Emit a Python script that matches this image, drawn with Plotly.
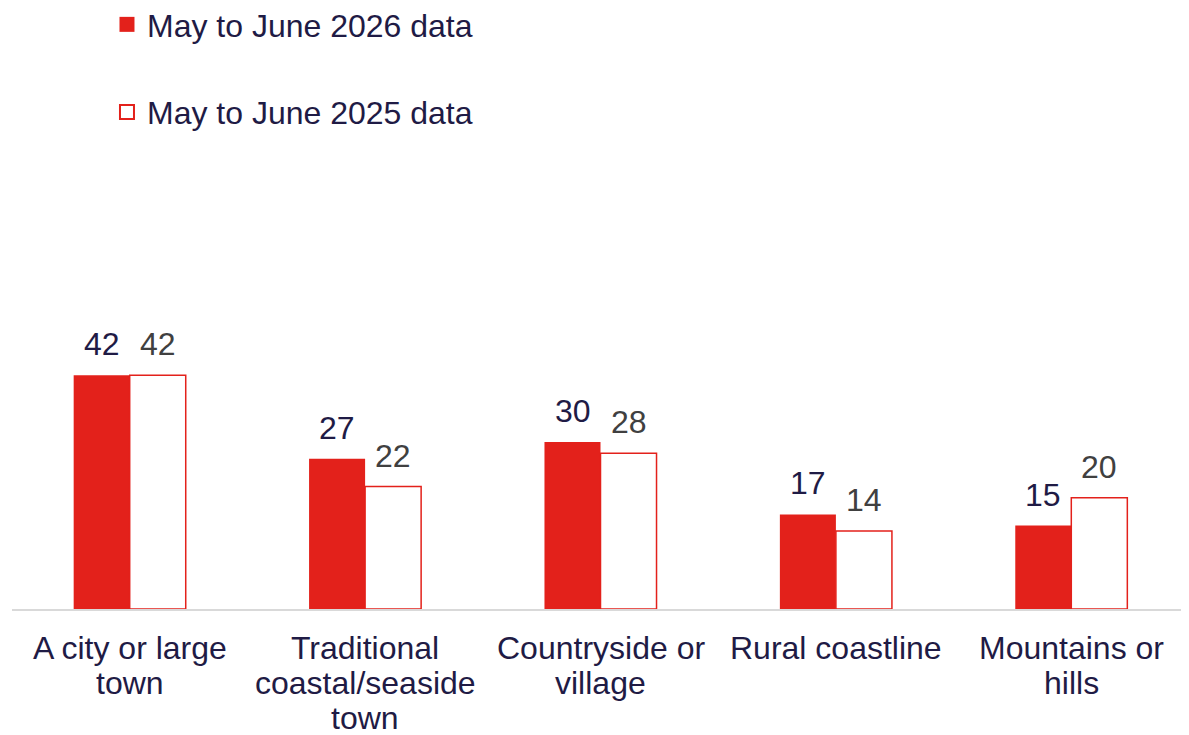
import plotly.graph_objects as go

categories = ["A city or large<br>town", "Traditional<br>coastal/seaside<br>town",
              "Countryside or<br>village", "Rural coastline", "Mountains or<br>hills"]
series_2026 = [42, 27, 30, 17, 15]
series_2025 = [42, 22, 28, 14, 20]
name_2026 = "May to June 2026 data"
name_2025 = "May to June 2025 data"

RED = "#E3211B"
NAVY = "#1F1B45"
GREY = "#404040"
FONT = "Arial, Liberation Sans, sans-serif"
FS = 32

fig = go.Figure()
fig.add_trace(go.Bar(x=categories, y=series_2026, name=name_2026, showlegend=False,
                     marker=dict(color=RED, line=dict(width=0))))
fig.add_trace(go.Bar(x=categories, y=series_2025, name=name_2025, showlegend=False,
                     marker=dict(color="white", line=dict(color=RED, width=1.5))))

# legend entries with larger square symbols (as in the reference)
fig.add_trace(go.Scatter(x=[None], y=[None], mode="markers", name=name_2026, legendgroup="a",
                         marker=dict(symbol="square", size=15, color=RED, line=dict(width=0))))
fig.add_trace(go.Scatter(x=[None], y=[None], mode="markers", name=name_2025, legendgroup="b",
                         marker=dict(symbol="square", size=14, color="white",
                                     line=dict(color=RED, width=2))))

for c, v in zip(categories, series_2026):
    fig.add_annotation(x=c, y=v, text=str(v), showarrow=False, yanchor="bottom",
                       xshift=-28, yshift=11, font=dict(size=FS, color=NAVY, family=FONT))
for c, v in zip(categories, series_2025):
    fig.add_annotation(x=c, y=v, text=str(v), showarrow=False, yanchor="bottom",
                       xshift=28, yshift=11, font=dict(size=FS, color=GREY, family=FONT))

# category labels, one annotation per line (tight line spacing as in the reference)
for c in categories:
    for i, line in enumerate(c.split("<br>")):
        fig.add_annotation(x=c, y=0, yref="paper", text=line, showarrow=False,
                           yanchor="middle", yshift=-39 - 35 * i,
                           font=dict(size=FS, color=NAVY, family=FONT))

fig.update_layout(
    width=1181, height=727,
    margin=dict(l=4, r=0, t=167, b=126, autoexpand=False),
    plot_bgcolor="white", paper_bgcolor="white",
    barmode="group", bargap=0.524, bargroupgap=0,
    font=dict(family=FONT, size=FS, color=NAVY),
    legend=dict(x=0.0807, y=1.410, xanchor="left", yanchor="top",
                font=dict(size=FS, color=NAVY, family=FONT), tracegroupgap=43,
                traceorder="grouped", bgcolor="rgba(0,0,0,0)"),
    showlegend=True,
)
fig.update_xaxes(showline=True, linecolor="#D9D9D9", linewidth=2, ticks="",
                 showticklabels=False, showgrid=False, automargin=False)
fig.update_yaxes(visible=False, range=[0, 78], showgrid=False, zeroline=False,
                 automargin=False)

fig.write_html("out.html")
